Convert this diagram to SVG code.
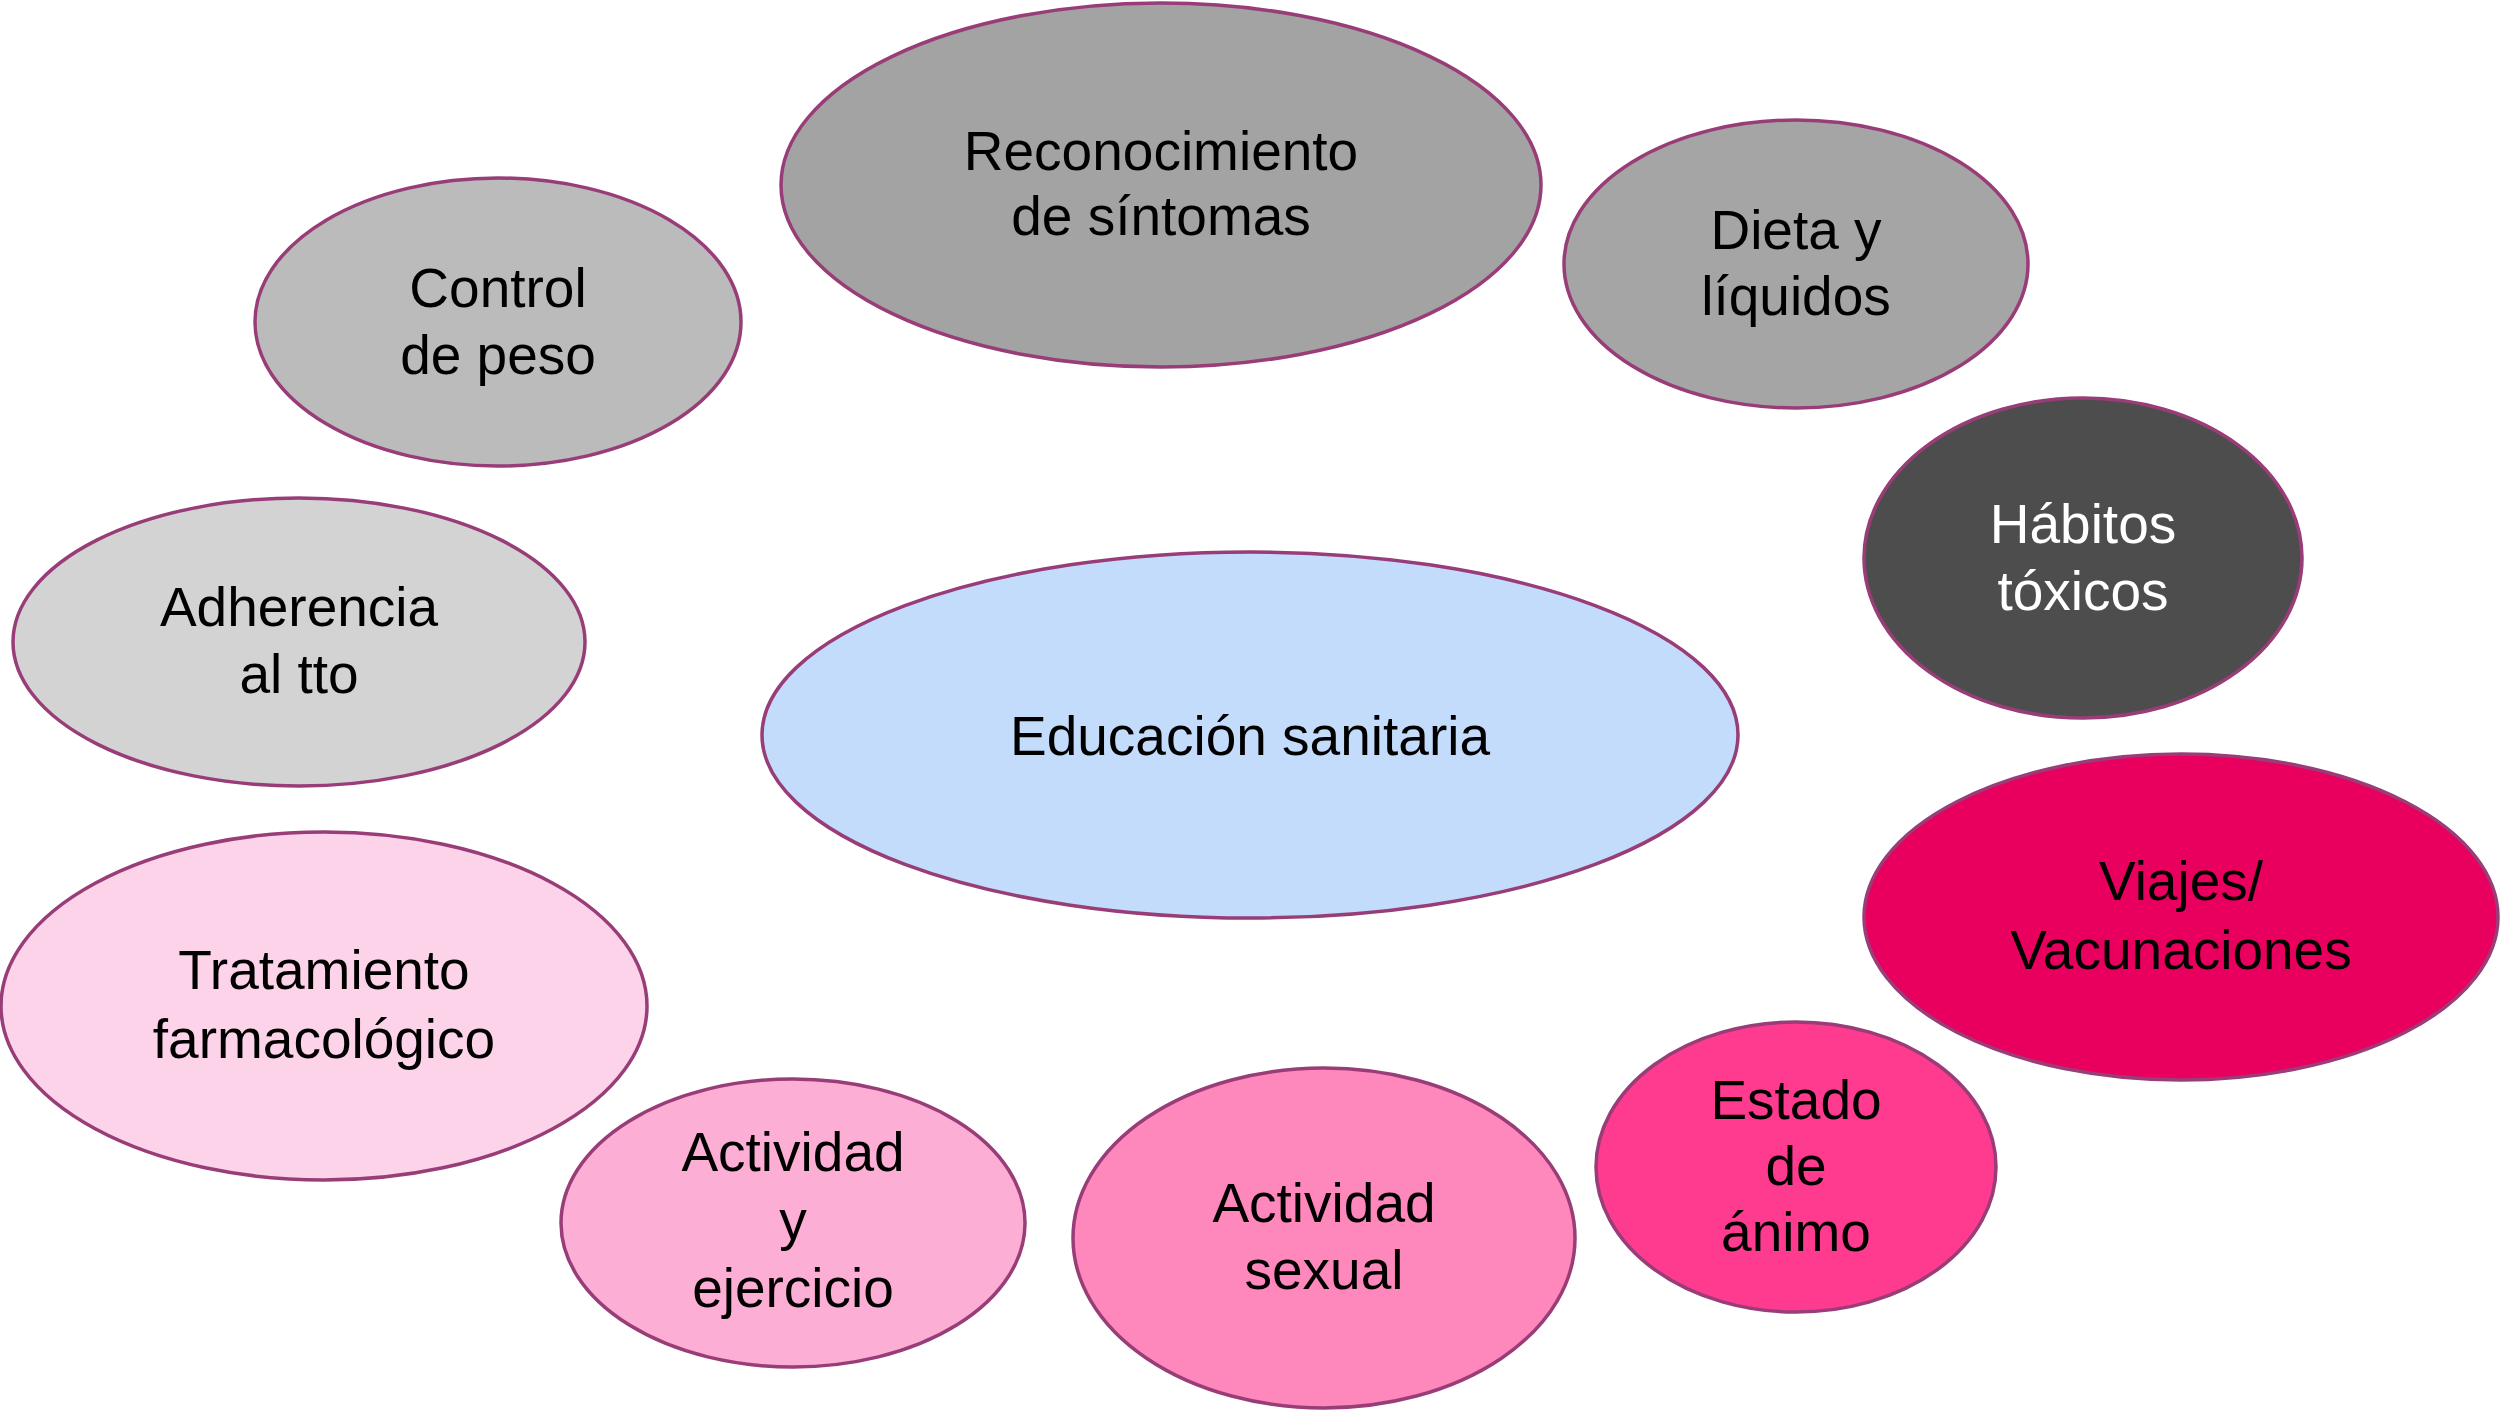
<svg xmlns="http://www.w3.org/2000/svg" width="2501" height="1410" viewBox="0 0 2501 1410">
<style>
.n{stroke:#983d78;stroke-width:3.5}
.t{font-family:"Liberation Sans",Arial,sans-serif;font-size:55px;fill:#000;text-anchor:middle}
.w{fill:#fff}
</style>
<rect width="2501" height="1410" fill="#fff"/>
<g id="connectors"></g>
<g id="n-reconocimiento"><ellipse class="n" cx="1161" cy="185" rx="380" ry="182" fill="#a3a3a3"/><text class="t" x="1161" y="170">Reconocimiento</text><text class="t" x="1161" y="235">de síntomas</text></g>
<g id="n-dieta"><ellipse class="n" cx="1796" cy="264" rx="232" ry="144" fill="#a5a5a5"/><text class="t" x="1796" y="249">Dieta y</text><text class="t" x="1796" y="315">líquidos</text></g>
<g id="n-control"><ellipse class="n" cx="498" cy="322" rx="243" ry="144" fill="#bbbbbb"/><text class="t" x="498" y="307">Control</text><text class="t" x="498" y="374">de peso</text></g>
<g id="n-habitos"><ellipse class="n" cx="2083" cy="558" rx="219" ry="160" fill="#4d4d4d"/><text class="t w" x="2083" y="543">Hábitos</text><text class="t w" x="2083" y="610">tóxicos</text></g>
<g id="n-adherencia"><ellipse class="n" cx="299" cy="642" rx="286" ry="144" fill="#d3d3d3"/><text class="t" x="299" y="626">Adherencia</text><text class="t" x="299" y="693">al tto</text></g>
<g id="n-educacion"><ellipse class="n" cx="1250" cy="735" rx="488" ry="183" fill="#c4dcfc"/><text class="t" x="1250" y="755">Educación sanitaria</text></g>
<g id="n-viajes"><ellipse class="n" cx="2181" cy="917" rx="317" ry="163" fill="#e9005e"/><text class="t" x="2181" y="900">Viajes/</text><text class="t" x="2181" y="969">Vacunaciones</text></g>
<g id="n-tratamiento"><ellipse class="n" cx="324" cy="1006" rx="323" ry="174" fill="#fdd3ea"/><text class="t" x="324" y="989">Tratamiento</text><text class="t" x="324" y="1058">farmacológico</text></g>
<g id="n-ejercicio"><ellipse class="n" cx="793" cy="1223" rx="232" ry="144" fill="#fdaed4"/><text class="t" x="793" y="1171">Actividad</text><text class="t" x="793" y="1239">y</text><text class="t" x="793" y="1307">ejercicio</text></g>
<g id="n-sexual"><ellipse class="n" cx="1324" cy="1238" rx="251" ry="170" fill="#fe87bb"/><text class="t" x="1324" y="1222">Actividad</text><text class="t" x="1324" y="1289">sexual</text></g>
<g id="n-animo"><ellipse class="n" cx="1796" cy="1167" rx="200" ry="145" fill="#fe3b8e"/><text class="t" x="1796" y="1119">Estado</text><text class="t" x="1796" y="1185">de</text><text class="t" x="1796" y="1251">ánimo</text></g>
</svg>
